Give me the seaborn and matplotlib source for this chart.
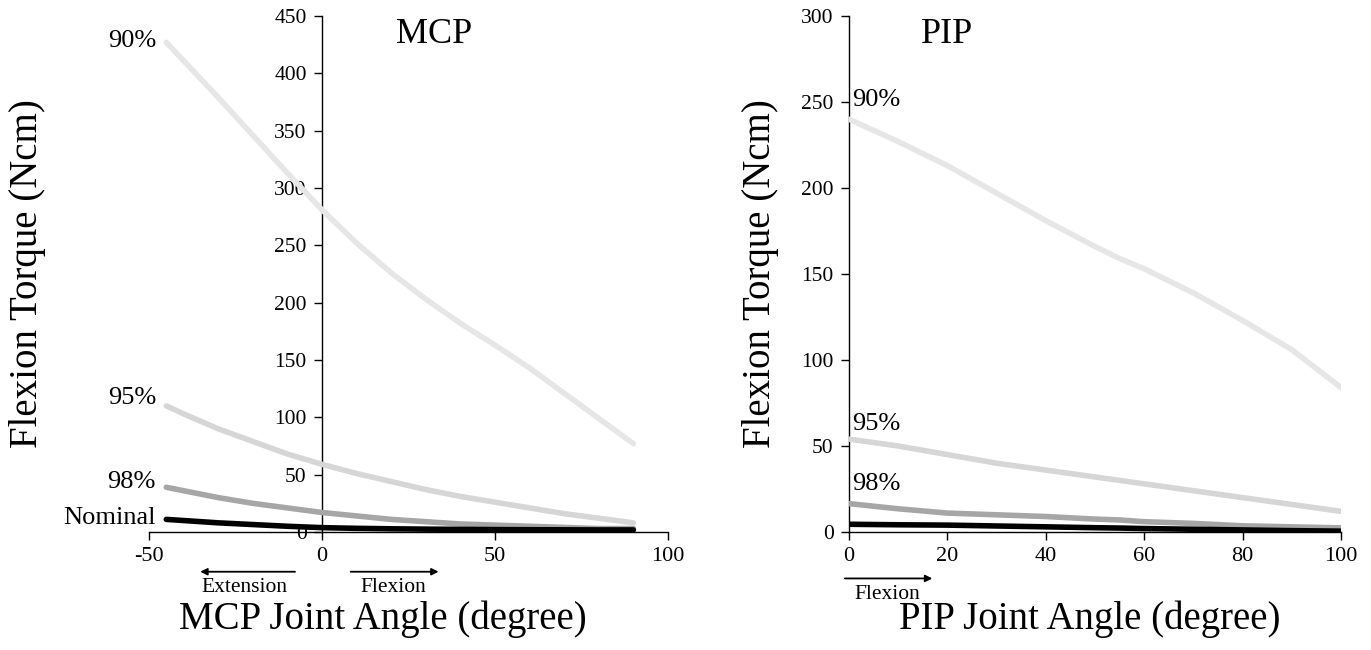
import matplotlib
matplotlib.use('Agg')
import matplotlib.pyplot as plt
import matplotlib.transforms as mtransforms
import seaborn as sns
import pandas as pd

# MCP joint: angle (degree) vs flexion torque (Ncm)
mcp_angle = [-45, -40, -30, -20, -10, 0, 10, 20, 30, 40, 50, 60, 70, 80, 90]
mcp_90 = [427, 411, 379, 346, 313, 281, 252, 226, 203, 182, 163, 143, 121, 99, 77]
mcp_95 = [110, 103, 90, 79, 68, 59, 51, 44, 37, 31, 26, 21, 16, 12, 8]
mcp_98 = [39, 36, 30, 25, 21, 17, 14, 11, 9, 7, 6, 5, 4, 3, 3]
mcp_nom = [11, 10, 8, 6.5, 5, 3.8, 3.2, 2.8, 2.5, 2.3, 2.1, 2.0, 1.9, 1.8, 1.8]

# PIP joint
pip_angle = [0, 10, 20, 30, 40, 50, 55, 60, 70, 80, 90, 100]
pip_90 = [240, 227, 213, 197, 181, 166, 159, 153, 139, 123, 106, 84]
pip_95 = [54, 50, 45, 40, 36, 32, 30, 28, 24, 20, 16, 12]
pip_98 = [16.5, 13.5, 11, 10, 9, 7.5, 7, 6, 5, 3.6, 3, 2.4]
pip_nom = [4.5, 4.2, 4.0, 3.5, 3.0, 2.5, 2.3, 2.0, 1.6, 1.2, 0.8, 0.5]

levels = ['90%', '95%', '98%', 'Nominal']
colors = {'90%': '#e6e6e6', '95%': '#d6d6d6', '98%': '#a6a6a6', 'Nominal': '#000000'}

sns.set_style('white')
plt.rcParams['font.family'] = ['Liberation Serif', 'DejaVu Serif']
plt.rcParams['text.color'] = 'black'
plt.rcParams['xtick.color'] = 'black'
plt.rcParams['ytick.color'] = 'black'
plt.rcParams['axes.unicode_minus'] = False

def long_df(angle, series):
    rows = []
    for lev, vals in zip(levels, series):
        for a, v in zip(angle, vals):
            rows.append({'angle': a, 'torque': v, 'level': lev})
    return pd.DataFrame(rows)

mcp_df = long_df(mcp_angle, [mcp_90, mcp_95, mcp_98, mcp_nom])
pip_df = long_df(pip_angle, [pip_90, pip_95, pip_98, pip_nom])

fig = plt.figure(figsize=(13.71, 6.5), dpi=100)
ax1 = fig.add_axes([149 / 1371, 1 - 532 / 650, 519 / 1371, 516 / 650])
ax2 = fig.add_axes([849 / 1371, 1 - 532 / 650, 492 / 1371, 516 / 650])

for ax, df in [(ax1, mcp_df), (ax2, pip_df)]:
    sns.lineplot(data=df, x='angle', y='torque', hue='level', hue_order=levels,
                 palette=colors, linewidth=4.0, legend=False, ax=ax, zorder=3)
    for s in ['top', 'right']:
        ax.spines[s].set_visible(False)
    for s in ['left', 'bottom']:
        ax.spines[s].set_color('black')
        ax.spines[s].set_linewidth(1.0)
    ax.tick_params(axis='both', which='major', direction='out', length=6, width=1.0,
                   color='black', bottom=True, left=True, pad=5)
    ax.tick_params(axis='x', labelsize=16)
    ax.tick_params(axis='y', labelsize=15.5)
    ax.set_xlabel('')
    ax.set_ylabel('')

# left panel
ax1.set_xlim(-50, 100)
ax1.set_ylim(0, 450)
ax1.set_xticks([-50, 0, 50, 100])
ax1.set_yticks(range(0, 451, 50))
ax1.spines['left'].set_position(('data', 0))
ax1.spines['left'].set_zorder(1)
ax1.text(0.55, 0.965, 'MCP', transform=ax1.transAxes, fontsize=26, ha='center', va='center')
ax1.text(-0.235, 0.5, 'Flexion Torque (Ncm)', transform=ax1.transAxes, fontsize=28,
         rotation=90, ha='center', va='center')
ax1.text(0.45, -0.17, 'MCP Joint Angle (degree)', transform=ax1.transAxes, fontsize=28,
         ha='center', va='center')
lab_y1 = {'90%': 428, '95%': 117, '98%': 44, 'Nominal': 12}
for lev in levels:
    ax1.text(-48, lab_y1[lev], lev, fontsize=19, ha='right', va='center')

tr1 = mtransforms.blended_transform_factory(ax1.transData, ax1.transAxes)
ax1.annotate('', xy=(-36, -0.077), xytext=(-7, -0.077), xycoords=tr1, textcoords=tr1,
             arrowprops=dict(arrowstyle='-|>', color='black', lw=1.3), annotation_clip=False)
ax1.annotate('', xy=(34.5, -0.077), xytext=(7.5, -0.077), xycoords=tr1, textcoords=tr1,
             arrowprops=dict(arrowstyle='-|>', color='black', lw=1.3), annotation_clip=False)
ax1.text(-22.5, -0.108, 'Extension', transform=tr1, fontsize=15.5, ha='center', va='center')
ax1.text(20.5, -0.108, 'Flexion', transform=tr1, fontsize=15.5, ha='center', va='center')

# right panel
ax2.set_xlim(0, 100)
ax2.set_ylim(0, 300)
ax2.set_xticks(range(0, 101, 20))
ax2.set_yticks(range(0, 301, 50))
ax2.text(20, 0.965, 'PIP', transform=mtransforms.blended_transform_factory(ax2.transData, ax2.transAxes),
         fontsize=26, ha='center', va='center')
ax2.text(-0.18, 0.5, 'Flexion Torque (Ncm)', transform=ax2.transAxes, fontsize=28,
         rotation=90, ha='center', va='center')
ax2.text(0.49, -0.17, 'PIP Joint Angle (degree)', transform=ax2.transAxes, fontsize=28,
         ha='center', va='center')
lab_y2 = {'90%': 251, '95%': 63, '98%': 28}
for lev, yv in lab_y2.items():
    ax2.text(0.6, yv, lev, fontsize=19, ha='left', va='center')

tr2 = mtransforms.blended_transform_factory(ax2.transData, ax2.transAxes)
ax2.annotate('', xy=(17.5, -0.09), xytext=(-1.4, -0.09), xycoords=tr2, textcoords=tr2,
             arrowprops=dict(arrowstyle='-|>', color='black', lw=1.3), annotation_clip=False)
ax2.text(7.7, -0.122, 'Flexion', transform=tr2, fontsize=15.5, ha='center', va='center')

fig.savefig('out.png', dpi=100)
